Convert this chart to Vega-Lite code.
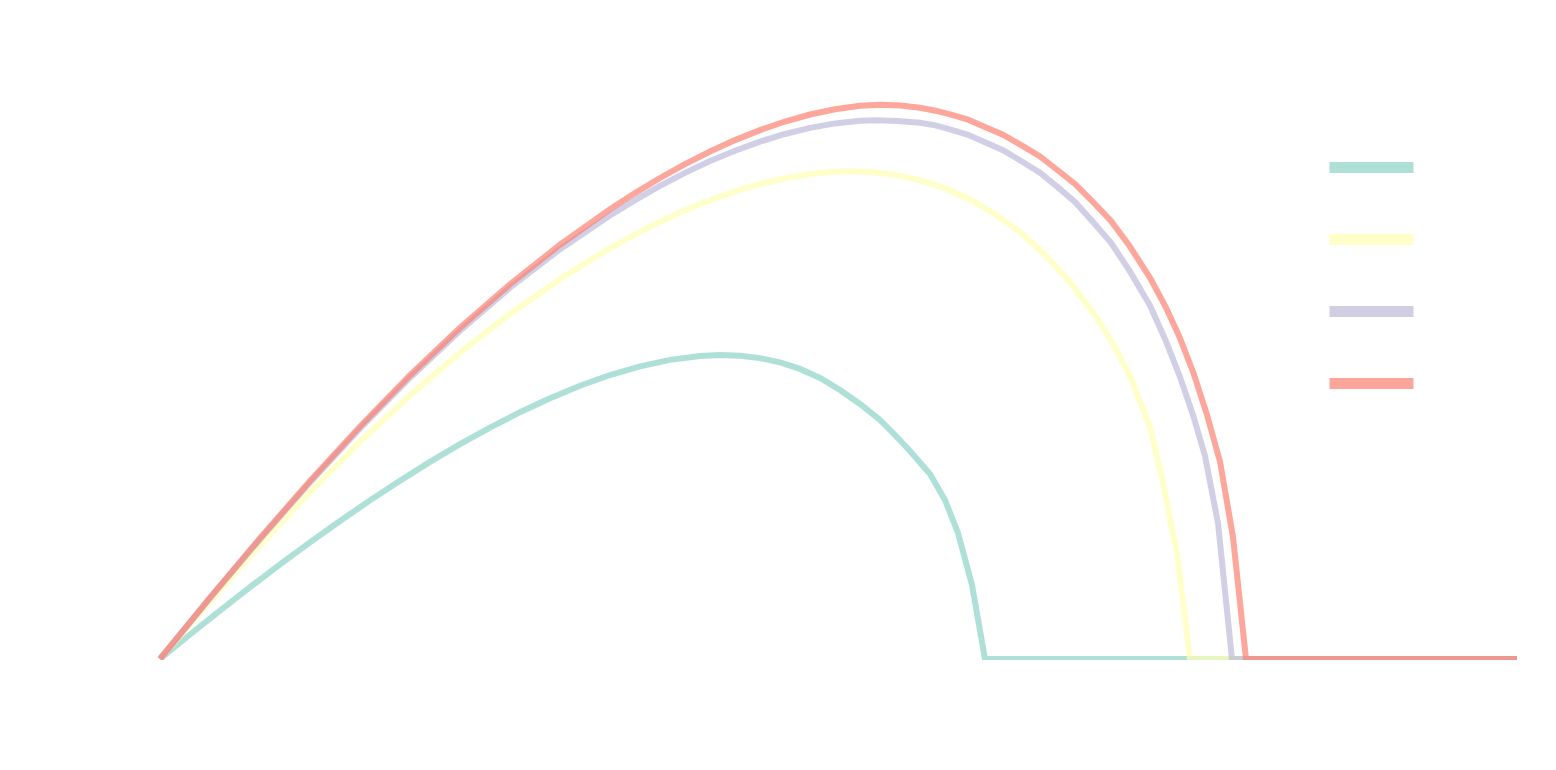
{
  "$schema": "https://vega.github.io/schema/vega-lite/v6.json",
  "width": 1360,
  "height": 601,
  "autosize": {"type": "none"},
  "padding": {"left": 157, "top": 59, "right": 39, "bottom": 110},
  "background": "white",
  "config": {"view": {"stroke": null}},
  "data": {
    "values": [
      {"series": "Series 1", "x": 0, "y": 0},
      {"series": "Series 1", "x": 3, "y": 2.45},
      {"series": "Series 1", "x": 6, "y": 4.84},
      {"series": "Series 1", "x": 9, "y": 7.18},
      {"series": "Series 1", "x": 12, "y": 9.46},
      {"series": "Series 1", "x": 15, "y": 11.66},
      {"series": "Series 1", "x": 18, "y": 13.80},
      {"series": "Series 1", "x": 21, "y": 15.86},
      {"series": "Series 1", "x": 24, "y": 17.83},
      {"series": "Series 1", "x": 27, "y": 19.71},
      {"series": "Series 1", "x": 30, "y": 21.48},
      {"series": "Series 1", "x": 33, "y": 23.14},
      {"series": "Series 1", "x": 36, "y": 24.68},
      {"series": "Series 1", "x": 39, "y": 26.08},
      {"series": "Series 1", "x": 42, "y": 27.33},
      {"series": "Series 1", "x": 45, "y": 28.40},
      {"series": "Series 1", "x": 48, "y": 29.27},
      {"series": "Series 1", "x": 51, "y": 29.91},
      {"series": "Series 1", "x": 54, "y": 30.30},
      {"series": "Series 1", "x": 56, "y": 30.39},
      {"series": "Series 1", "x": 58, "y": 30.32},
      {"series": "Series 1", "x": 60, "y": 30.09},
      {"series": "Series 1", "x": 62, "y": 29.66},
      {"series": "Series 1", "x": 64, "y": 29.01},
      {"series": "Series 1", "x": 66, "y": 28.10},
      {"series": "Series 1", "x": 68, "y": 26.90},
      {"series": "Series 1", "x": 70, "y": 25.5},
      {"series": "Series 1", "x": 72, "y": 23.9},
      {"series": "Series 1", "x": 73.5, "y": 22.4},
      {"series": "Series 1", "x": 75, "y": 20.8},
      {"series": "Series 1", "x": 77, "y": 18.5},
      {"series": "Series 1", "x": 78.5, "y": 15.9},
      {"series": "Series 1", "x": 79.8, "y": 12.6},
      {"series": "Series 1", "x": 81.2, "y": 7.4},
      {"series": "Series 1", "x": 82.5, "y": 0},
      {"series": "Series 1", "x": 135.7, "y": 0},

      {"series": "Series 2", "x": 0, "y": 0},
      {"series": "Series 2", "x": 5, "y": 5.75},
      {"series": "Series 2", "x": 10, "y": 11.35},
      {"series": "Series 2", "x": 15, "y": 16.70},
      {"series": "Series 2", "x": 20, "y": 21.73},
      {"series": "Series 2", "x": 25, "y": 26.38},
      {"series": "Series 2", "x": 30, "y": 30.63},
      {"series": "Series 2", "x": 35, "y": 34.50},
      {"series": "Series 2", "x": 40, "y": 38.00},
      {"series": "Series 2", "x": 45, "y": 41.09},
      {"series": "Series 2", "x": 47.5, "y": 42.47},
      {"series": "Series 2", "x": 50, "y": 43.73},
      {"series": "Series 2", "x": 52.5, "y": 44.87},
      {"series": "Series 2", "x": 55, "y": 45.88},
      {"series": "Series 2", "x": 57.5, "y": 46.76},
      {"series": "Series 2", "x": 60, "y": 47.49},
      {"series": "Series 2", "x": 62.5, "y": 48.07},
      {"series": "Series 2", "x": 65, "y": 48.49},
      {"series": "Series 2", "x": 67.5, "y": 48.73},
      {"series": "Series 2", "x": 69.1, "y": 48.77},
      {"series": "Series 2", "x": 71, "y": 48.70},
      {"series": "Series 2", "x": 73.5, "y": 48.41},
      {"series": "Series 2", "x": 76, "y": 47.88},
      {"series": "Series 2", "x": 78.5, "y": 47.06},
      {"series": "Series 2", "x": 81, "y": 45.95},
      {"series": "Series 2", "x": 83.5, "y": 44.50},
      {"series": "Series 2", "x": 86, "y": 42.68},
      {"series": "Series 2", "x": 88.5, "y": 40.43},
      {"series": "Series 2", "x": 91, "y": 37.69},
      {"series": "Series 2", "x": 93.5, "y": 34.38},
      {"series": "Series 2", "x": 95.5, "y": 31.18},
      {"series": "Series 2", "x": 97, "y": 28.29},
      {"series": "Series 2", "x": 99, "y": 23.2},
      {"series": "Series 2", "x": 100.3, "y": 17.6},
      {"series": "Series 2", "x": 101.7, "y": 10.6},
      {"series": "Series 2", "x": 103.0, "y": 0},
      {"series": "Series 2", "x": 135.7, "y": 0},

      {"series": "Series 3", "x": 0, "y": 0},
      {"series": "Series 3", "x": 5, "y": 6.08},
      {"series": "Series 3", "x": 10, "y": 11.98},
      {"series": "Series 3", "x": 15, "y": 17.65},
      {"series": "Series 3", "x": 20, "y": 23.05},
      {"series": "Series 3", "x": 25, "y": 28.13},
      {"series": "Series 3", "x": 30, "y": 32.83},
      {"series": "Series 3", "x": 35, "y": 37.13},
      {"series": "Series 3", "x": 40, "y": 40.98},
      {"series": "Series 3", "x": 45, "y": 44.36},
      {"series": "Series 3", "x": 47.5, "y": 45.89},
      {"series": "Series 3", "x": 50, "y": 47.31},
      {"series": "Series 3", "x": 52.5, "y": 48.61},
      {"series": "Series 3", "x": 55, "y": 49.79},
      {"series": "Series 3", "x": 57.5, "y": 50.83},
      {"series": "Series 3", "x": 60, "y": 51.74},
      {"series": "Series 3", "x": 62.5, "y": 52.50},
      {"series": "Series 3", "x": 65, "y": 53.11},
      {"series": "Series 3", "x": 67.5, "y": 53.56},
      {"series": "Series 3", "x": 70, "y": 53.83},
      {"series": "Series 3", "x": 71.6, "y": 53.88},
      {"series": "Series 3", "x": 73.8, "y": 53.81},
      {"series": "Series 3", "x": 76, "y": 53.62},
      {"series": "Series 3", "x": 77.55, "y": 53.36},
      {"series": "Series 3", "x": 79.1, "y": 52.93},
      {"series": "Series 3", "x": 80.8, "y": 52.42},
      {"series": "Series 3", "x": 82.5, "y": 51.68},
      {"series": "Series 3", "x": 84.35, "y": 50.85},
      {"series": "Series 3", "x": 86.2, "y": 49.75},
      {"series": "Series 3", "x": 88.0, "y": 48.63},
      {"series": "Series 3", "x": 89.8, "y": 47.16},
      {"series": "Series 3", "x": 91.55, "y": 45.66},
      {"series": "Series 3", "x": 93.3, "y": 43.70},
      {"series": "Series 3", "x": 95.1, "y": 41.61},
      {"series": "Series 3", "x": 96.9, "y": 38.91},
      {"series": "Series 3", "x": 99, "y": 35.34},
      {"series": "Series 3", "x": 100.5, "y": 32.0},
      {"series": "Series 3", "x": 102, "y": 28.2},
      {"series": "Series 3", "x": 103.3, "y": 24.4},
      {"series": "Series 3", "x": 104.5, "y": 20.3},
      {"series": "Series 3", "x": 105.8, "y": 13.6},
      {"series": "Series 3", "x": 107.2, "y": 0},
      {"series": "Series 3", "x": 135.7, "y": 0},

      {"series": "Series 4", "x": 0, "y": 0},
      {"series": "Series 4", "x": 5, "y": 6.13},
      {"series": "Series 4", "x": 10, "y": 12.08},
      {"series": "Series 4", "x": 15, "y": 17.80},
      {"series": "Series 4", "x": 20, "y": 23.25},
      {"series": "Series 4", "x": 25, "y": 28.38},
      {"series": "Series 4", "x": 30, "y": 33.13},
      {"series": "Series 4", "x": 35, "y": 37.48},
      {"series": "Series 4", "x": 40, "y": 41.43},
      {"series": "Series 4", "x": 45, "y": 44.98},
      {"series": "Series 4", "x": 47.5, "y": 46.59},
      {"series": "Series 4", "x": 50, "y": 48.10},
      {"series": "Series 4", "x": 52.5, "y": 49.49},
      {"series": "Series 4", "x": 55, "y": 50.75},
      {"series": "Series 4", "x": 57.5, "y": 51.89},
      {"series": "Series 4", "x": 60, "y": 52.89},
      {"series": "Series 4", "x": 62.5, "y": 53.75},
      {"series": "Series 4", "x": 65, "y": 54.45},
      {"series": "Series 4", "x": 67.5, "y": 54.98},
      {"series": "Series 4", "x": 70, "y": 55.33},
      {"series": "Series 4", "x": 72.1, "y": 55.43},
      {"series": "Series 4", "x": 74.05, "y": 55.36},
      {"series": "Series 4", "x": 76, "y": 55.12},
      {"series": "Series 4", "x": 77.55, "y": 54.83},
      {"series": "Series 4", "x": 79.1, "y": 54.44},
      {"series": "Series 4", "x": 80.8, "y": 53.93},
      {"series": "Series 4", "x": 82.5, "y": 53.21},
      {"series": "Series 4", "x": 84.35, "y": 52.40},
      {"series": "Series 4", "x": 86.2, "y": 51.33},
      {"series": "Series 4", "x": 88.0, "y": 50.25},
      {"series": "Series 4", "x": 89.8, "y": 48.85},
      {"series": "Series 4", "x": 91.55, "y": 47.45},
      {"series": "Series 4", "x": 93.3, "y": 45.70},
      {"series": "Series 4", "x": 95.1, "y": 43.81},
      {"series": "Series 4", "x": 96.9, "y": 41.38},
      {"series": "Series 4", "x": 99, "y": 38.12},
      {"series": "Series 4", "x": 100.6, "y": 35.13},
      {"series": "Series 4", "x": 102, "y": 32.09},
      {"series": "Series 4", "x": 103.4, "y": 28.45},
      {"series": "Series 4", "x": 104.7, "y": 24.42},
      {"series": "Series 4", "x": 106, "y": 19.74},
      {"series": "Series 4", "x": 107.3, "y": 12.2},
      {"series": "Series 4", "x": 108.6, "y": 0},
      {"series": "Series 4", "x": 135.7, "y": 0}
    ]
  },
  "mark": {"type": "line", "strokeWidth": 6, "opacity": 0.7, "strokeCap": "butt", "clip": true},
  "encoding": {
    "x": {"field": "x", "type": "quantitative", "scale": {"domain": [-0.3, 135.7], "nice": false, "zero": false}, "axis": null},
    "y": {"field": "y", "type": "quantitative", "scale": {"domain": [-0.1, 60], "nice": false, "zero": false}, "axis": null},
    "color": {
      "field": "series",
      "type": "nominal",
      "scale": {
        "domain": ["Series 1", "Series 2", "Series 3", "Series 4"],
        "range": ["#8dd3c7", "#ffffb3", "#bebada", "#fb8072"]
      },
      "legend": {
        "orient": "none",
        "legendX": 1167,
        "legendY": 61,
        "title": null,
        "symbolType": "stroke",
        "symbolSize": 7056,
        "symbolStrokeWidth": 11,
        "symbolOpacity": 0.7,
        "labelColor": "white",
        "labelFontSize": 12,
        "rowPadding": 2
      }
    }
  }
}
